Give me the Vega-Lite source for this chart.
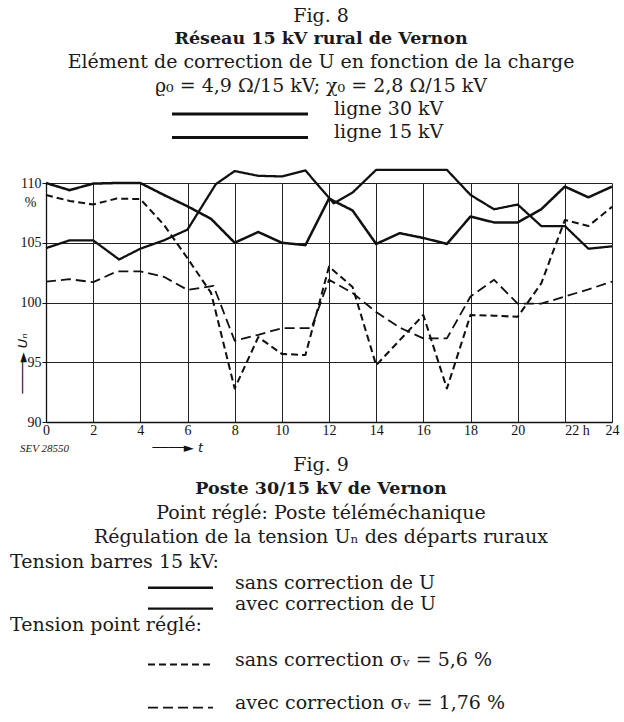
{
  "$schema": "https://vega.github.io/schema/vega-lite/v6.json",
  "autosize": {"type": "pad"},
  "padding": {"left": 10, "top": 0, "right": 4, "bottom": 0},
  "background": "white",
  "bounds": "flush",
  "spacing": 16,
  "config": {
    "view": {"stroke": null},
    "text": {"font": "DejaVu Serif", "fontSize": 19, "color": "#1a1a1a"}
  },
  "datasets": {
    "series": [
      {"hour": 0, "U": 110.0, "series": "barres sans correction"},
      {"hour": 1, "U": 109.4, "series": "barres sans correction"},
      {"hour": 2, "U": 109.95, "series": "barres sans correction"},
      {"hour": 3, "U": 110.0, "series": "barres sans correction"},
      {"hour": 4, "U": 110.0, "series": "barres sans correction"},
      {"hour": 5, "U": 109.0, "series": "barres sans correction"},
      {"hour": 6, "U": 108.05, "series": "barres sans correction"},
      {"hour": 7, "U": 107.0, "series": "barres sans correction"},
      {"hour": 8, "U": 105.0, "series": "barres sans correction"},
      {"hour": 9, "U": 105.9, "series": "barres sans correction"},
      {"hour": 10, "U": 105.0, "series": "barres sans correction"},
      {"hour": 11, "U": 104.8, "series": "barres sans correction"},
      {"hour": 12, "U": 108.7, "series": "barres sans correction"},
      {"hour": 13, "U": 107.7, "series": "barres sans correction"},
      {"hour": 14, "U": 104.9, "series": "barres sans correction"},
      {"hour": 15, "U": 105.8, "series": "barres sans correction"},
      {"hour": 16, "U": 105.4, "series": "barres sans correction"},
      {"hour": 17, "U": 104.9, "series": "barres sans correction"},
      {"hour": 18, "U": 107.2, "series": "barres sans correction"},
      {"hour": 19, "U": 106.7, "series": "barres sans correction"},
      {"hour": 20, "U": 106.7, "series": "barres sans correction"},
      {"hour": 21, "U": 107.8, "series": "barres sans correction"},
      {"hour": 22, "U": 109.7, "series": "barres sans correction"},
      {"hour": 23, "U": 108.8, "series": "barres sans correction"},
      {"hour": 24, "U": 109.7, "series": "barres sans correction"},

      {"hour": 0, "U": 104.55, "series": "barres avec correction"},
      {"hour": 1, "U": 105.2, "series": "barres avec correction"},
      {"hour": 2, "U": 105.2, "series": "barres avec correction"},
      {"hour": 3.1, "U": 103.6, "series": "barres avec correction"},
      {"hour": 4, "U": 104.5, "series": "barres avec correction"},
      {"hour": 5, "U": 105.2, "series": "barres avec correction"},
      {"hour": 6, "U": 106.1, "series": "barres avec correction"},
      {"hour": 7.2, "U": 109.9, "series": "barres avec correction"},
      {"hour": 8, "U": 111.0, "series": "barres avec correction"},
      {"hour": 9, "U": 110.6, "series": "barres avec correction"},
      {"hour": 10, "U": 110.55, "series": "barres avec correction"},
      {"hour": 11, "U": 111.05, "series": "barres avec correction"},
      {"hour": 12.2, "U": 108.3, "series": "barres avec correction"},
      {"hour": 13, "U": 109.2, "series": "barres avec correction"},
      {"hour": 14, "U": 111.1, "series": "barres avec correction"},
      {"hour": 15, "U": 111.1, "series": "barres avec correction"},
      {"hour": 16, "U": 111.1, "series": "barres avec correction"},
      {"hour": 17, "U": 111.1, "series": "barres avec correction"},
      {"hour": 18, "U": 109.0, "series": "barres avec correction"},
      {"hour": 19, "U": 107.8, "series": "barres avec correction"},
      {"hour": 20, "U": 108.2, "series": "barres avec correction"},
      {"hour": 21, "U": 106.4, "series": "barres avec correction"},
      {"hour": 22, "U": 106.4, "series": "barres avec correction"},
      {"hour": 23, "U": 104.5, "series": "barres avec correction"},
      {"hour": 24, "U": 104.7, "series": "barres avec correction"},

      {"hour": 0, "U": 109.0, "series": "point réglé sans correction"},
      {"hour": 1, "U": 108.5, "series": "point réglé sans correction"},
      {"hour": 2, "U": 108.2, "series": "point réglé sans correction"},
      {"hour": 3, "U": 108.7, "series": "point réglé sans correction"},
      {"hour": 4, "U": 108.65, "series": "point réglé sans correction"},
      {"hour": 5, "U": 106.5, "series": "point réglé sans correction"},
      {"hour": 6, "U": 103.7, "series": "point réglé sans correction"},
      {"hour": 7, "U": 100.8, "series": "point réglé sans correction"},
      {"hour": 8, "U": 92.8, "series": "point réglé sans correction"},
      {"hour": 9, "U": 97.1, "series": "point réglé sans correction"},
      {"hour": 10, "U": 95.7, "series": "point réglé sans correction"},
      {"hour": 11, "U": 95.6, "series": "point réglé sans correction"},
      {"hour": 12, "U": 103.0, "series": "point réglé sans correction"},
      {"hour": 13, "U": 101.3, "series": "point réglé sans correction"},
      {"hour": 14, "U": 94.75, "series": "point réglé sans correction"},
      {"hour": 15, "U": 96.85, "series": "point réglé sans correction"},
      {"hour": 16, "U": 98.95, "series": "point réglé sans correction"},
      {"hour": 17, "U": 92.8, "series": "point réglé sans correction"},
      {"hour": 18, "U": 98.95, "series": "point réglé sans correction"},
      {"hour": 19, "U": 98.9, "series": "point réglé sans correction"},
      {"hour": 20, "U": 98.8, "series": "point réglé sans correction"},
      {"hour": 21, "U": 101.6, "series": "point réglé sans correction"},
      {"hour": 22, "U": 106.9, "series": "point réglé sans correction"},
      {"hour": 23, "U": 106.4, "series": "point réglé sans correction"},
      {"hour": 24, "U": 108.0, "series": "point réglé sans correction"},

      {"hour": 0, "U": 101.75, "series": "point réglé avec correction"},
      {"hour": 1, "U": 101.95, "series": "point réglé avec correction"},
      {"hour": 2, "U": 101.7, "series": "point réglé avec correction"},
      {"hour": 3, "U": 102.6, "series": "point réglé avec correction"},
      {"hour": 4, "U": 102.6, "series": "point réglé avec correction"},
      {"hour": 5, "U": 102.15, "series": "point réglé avec correction"},
      {"hour": 6, "U": 101.05, "series": "point réglé avec correction"},
      {"hour": 7.1, "U": 101.4, "series": "point réglé avec correction"},
      {"hour": 8, "U": 96.8, "series": "point réglé avec correction"},
      {"hour": 9, "U": 97.3, "series": "point réglé avec correction"},
      {"hour": 10, "U": 97.85, "series": "point réglé avec correction"},
      {"hour": 11.25, "U": 97.85, "series": "point réglé avec correction"},
      {"hour": 12, "U": 101.9, "series": "point réglé avec correction"},
      {"hour": 13, "U": 100.8, "series": "point réglé avec correction"},
      {"hour": 14, "U": 99.2, "series": "point réglé avec correction"},
      {"hour": 15, "U": 97.9, "series": "point réglé avec correction"},
      {"hour": 16, "U": 97.0, "series": "point réglé avec correction"},
      {"hour": 17, "U": 97.0, "series": "point réglé avec correction"},
      {"hour": 18, "U": 100.5, "series": "point réglé avec correction"},
      {"hour": 19, "U": 101.9, "series": "point réglé avec correction"},
      {"hour": 20, "U": 99.9, "series": "point réglé avec correction"},
      {"hour": 21, "U": 99.9, "series": "point réglé avec correction"},
      {"hour": 22, "U": 100.5, "series": "point réglé avec correction"},
      {"hour": 23, "U": 101.1, "series": "point réglé avec correction"},
      {"hour": 24, "U": 101.75, "series": "point réglé avec correction"}
    ],
    "top": [
      {"line": 0, "role": "caption", "text": "Fig. 8"},
      {"line": 1, "role": "heading", "text": "Réseau 15 kV rural de Vernon"},
      {"line": 2, "role": "caption", "text": "Elément de correction de U en fonction de la charge"},
      {"line": 3, "role": "caption", "text": "ϱ₀ = 4,9 Ω/15 kV;  χ₀ = 2,8 Ω/15 kV"},
      {"line": 4, "role": "legend", "ligne": "30 kV", "text": "ligne 30 kV"},
      {"line": 5, "role": "legend", "ligne": "15 kV", "text": "ligne 15 kV"}
    ],
    "bottom": [
      {"line": -0.7, "role": "code", "text": "SEV 28550"},
      {"line": 0, "role": "caption", "text": "Fig. 9"},
      {"line": 1.05, "role": "heading", "text": "Poste 30/15 kV de Vernon"},
      {"line": 2.05, "role": "caption", "text": "Point réglé: Poste téléméchanique"},
      {"line": 3.1, "role": "caption", "text": "Régulation de la tension Uₙ des départs ruraux"},
      {"line": 4.15, "role": "label", "text": "Tension barres 15 kV:"},
      {"line": 5.05, "role": "legend", "series": "barres sans correction", "text": "sans correction de U"},
      {"line": 5.95, "role": "legend", "series": "barres avec correction", "text": "avec correction de U"},
      {"line": 6.85, "role": "label", "text": "Tension point réglé:"},
      {"line": 8.35, "role": "legend", "series": "point réglé sans correction", "text": "sans correction σᵥ = 5,6 %"},
      {"line": 10.2, "role": "legend", "series": "point réglé avec correction", "text": "avec correction σᵥ = 1,76 %"}
    ]
  },
  "vconcat": [
    {
      "width": 566,
      "height": 167,
      "data": {"name": "top"},
      "encoding": {
        "y": {"field": "line", "type": "quantitative", "scale": {"domain": [-0.6624, 6.4744], "reverse": true, "nice": false, "zero": false}, "axis": null}
      },
      "layer": [
        {
          "transform": [{"filter": "datum.role == 'caption'"}],
          "mark": {"type": "text", "x": 275, "align": "center", "baseline": "middle"},
          "encoding": {"text": {"field": "text"}}
        },
        {
          "transform": [{"filter": "datum.role == 'heading'"}],
          "mark": {"type": "text", "x": 275, "align": "center", "baseline": "middle", "fontWeight": "bold", "fontSize": 17.5},
          "encoding": {"text": {"field": "text"}}
        },
        {
          "transform": [{"filter": "datum.role == 'legend'"}],
          "mark": {"type": "text", "x": 288, "align": "left", "baseline": "middle"},
          "encoding": {"text": {"field": "text"}}
        },
        {
          "transform": [{"filter": "datum.role == 'legend'"}],
          "mark": {"type": "rule", "x": 126, "x2": 262, "color": "#111", "strokeCap": "butt"},
          "encoding": {
            "yOffset": {"value": 5},
            "strokeWidth": {"field": "ligne", "type": "nominal", "scale": {"domain": ["30 kV", "15 kV"], "range": [3, 1.8]}, "legend": null}
          }
        }
      ]
    },
    {
      "width": 566,
      "height": 239,
      "data": {"name": "series"},
      "mark": {"type": "line", "clip": false, "color": "#111", "strokeCap": "butt", "strokeJoin": "round"},
      "encoding": {
        "x": {
          "field": "hour", "type": "quantitative",
          "scale": {"domain": [0, 24], "nice": false, "zero": false},
          "axis": {
            "values": [0, 2, 4, 6, 8, 10, 12, 14, 16, 18, 20, 22, 24],
            "grid": true, "gridColor": "#222", "gridWidth": 1,
            "domainColor": "#111", "domainWidth": 1.3,
            "ticks": false,
            "labelFont": "Liberation Sans Narrow", "labelFontSize": 14, "labelColor": "#111",
            "labelPadding": 1, "labelFlush": false, "labelOverlap": false,
            "labelExpr": "datum.value == 22 ? '22  h' : datum.label",
            "labelAlign": {"condition": {"test": "datum.value == 22", "value": "left"}, "value": "center"},
            "title": "────► t",
            "titleFont": "DejaVu Sans", "titleFontSize": 13, "titleFontWeight": "normal", "titleFontStyle": "italic",
            "titleColor": "#111",
            "titleX": 106, "titleY": 25, "titleAlign": "left", "titleBaseline": "middle"
          }
        },
        "y": {
          "field": "U", "type": "quantitative",
          "scale": {"domain": [90, 110], "nice": false, "zero": false},
          "axis": {
            "values": [90, 95, 100, 105, 108.4, 110],
            "labelExpr": "datum.value == 108.4 ? '%' : datum.label",
            "grid": true, "gridColor": "#222", "gridWidth": 1,
            "gridOpacity": {"condition": {"test": "datum.value == 108.4", "value": 0}, "value": 1},
            "tickOpacity": {"condition": {"test": "datum.value == 108.4", "value": 0}, "value": 1},
            "labelPadding": {"condition": {"test": "datum.value == 108.4", "value": 6}, "value": 1},
            "tickSize": 4, "tickColor": "#111",
            "domainColor": "#111", "domainWidth": 1.3,
            "labelFont": "Liberation Sans Narrow", "labelFontSize": 14, "labelColor": "#111",
            "labelFlush": false, "labelOverlap": false,
            "title": "────► Uₙ",
            "titleFont": "DejaVu Sans", "titleFontSize": 13, "titleFontWeight": "normal", "titleFontStyle": "italic",
            "titleColor": "#111",
            "titleAngle": 270, "titleX": -24, "titleY": 180, "titleAlign": "center", "titleBaseline": "middle"
          }
        },
        "detail": {"field": "series"},
        "strokeWidth": {
          "field": "series", "type": "nominal",
          "scale": {"domain": ["barres sans correction", "barres avec correction", "point réglé sans correction", "point réglé avec correction"], "range": [1.3, 3, 1.3, 3]},
          "legend": null
        },
        "strokeDash": {
          "field": "series", "type": "nominal",
          "scale": {"domain": ["barres sans correction", "barres avec correction", "point réglé sans correction", "point réglé avec correction"], "range": [[1, 0], [1, 0], [7, 4], [10, 5]]},
          "legend": null
        }
      }
    },
    {
      "width": 566,
      "height": 284,
      "data": {"name": "bottom"},
      "encoding": {
        "y": {"field": "line", "type": "quantitative", "scale": {"domain": [-1.1588, 11.03], "reverse": true, "nice": false, "zero": false}, "axis": null}
      },
      "layer": [
        {
          "transform": [{"filter": "datum.role == 'code'"}],
          "mark": {"type": "text", "x": -26, "align": "left", "baseline": "middle", "font": "Liberation Sans Narrow", "fontSize": 11, "fontStyle": "italic"},
          "encoding": {"text": {"field": "text"}}
        },
        {
          "transform": [{"filter": "datum.role == 'caption'"}],
          "mark": {"type": "text", "x": 275, "align": "center", "baseline": "middle"},
          "encoding": {"text": {"field": "text"}}
        },
        {
          "transform": [{"filter": "datum.role == 'heading'"}],
          "mark": {"type": "text", "x": 275, "align": "center", "baseline": "middle", "fontWeight": "bold", "fontSize": 17.5},
          "encoding": {"text": {"field": "text"}}
        },
        {
          "transform": [{"filter": "datum.role == 'label'"}],
          "mark": {"type": "text", "x": -36, "align": "left", "baseline": "middle"},
          "encoding": {"text": {"field": "text"}}
        },
        {
          "transform": [{"filter": "datum.role == 'legend'"}],
          "mark": {"type": "text", "x": 189, "align": "left", "baseline": "middle"},
          "encoding": {"text": {"field": "text"}}
        },
        {
          "transform": [{"filter": "datum.role == 'legend'"}],
          "mark": {"type": "rule", "x": 102, "x2": 167, "color": "#111", "strokeCap": "butt"},
          "encoding": {
            "yOffset": {"value": 5},
            "strokeWidth": {
              "field": "series", "type": "nominal",
              "scale": {"domain": ["barres sans correction", "barres avec correction", "point réglé sans correction", "point réglé avec correction"], "range": [1.4, 3, 1.4, 3]},
              "legend": null
            },
            "strokeDash": {
              "field": "series", "type": "nominal",
              "scale": {"domain": ["barres sans correction", "barres avec correction", "point réglé sans correction", "point réglé avec correction"], "range": [[1, 0], [1, 0], [10, 5], [10, 5]]},
              "legend": null
            }
          }
        }
      ]
    }
  ]
}
